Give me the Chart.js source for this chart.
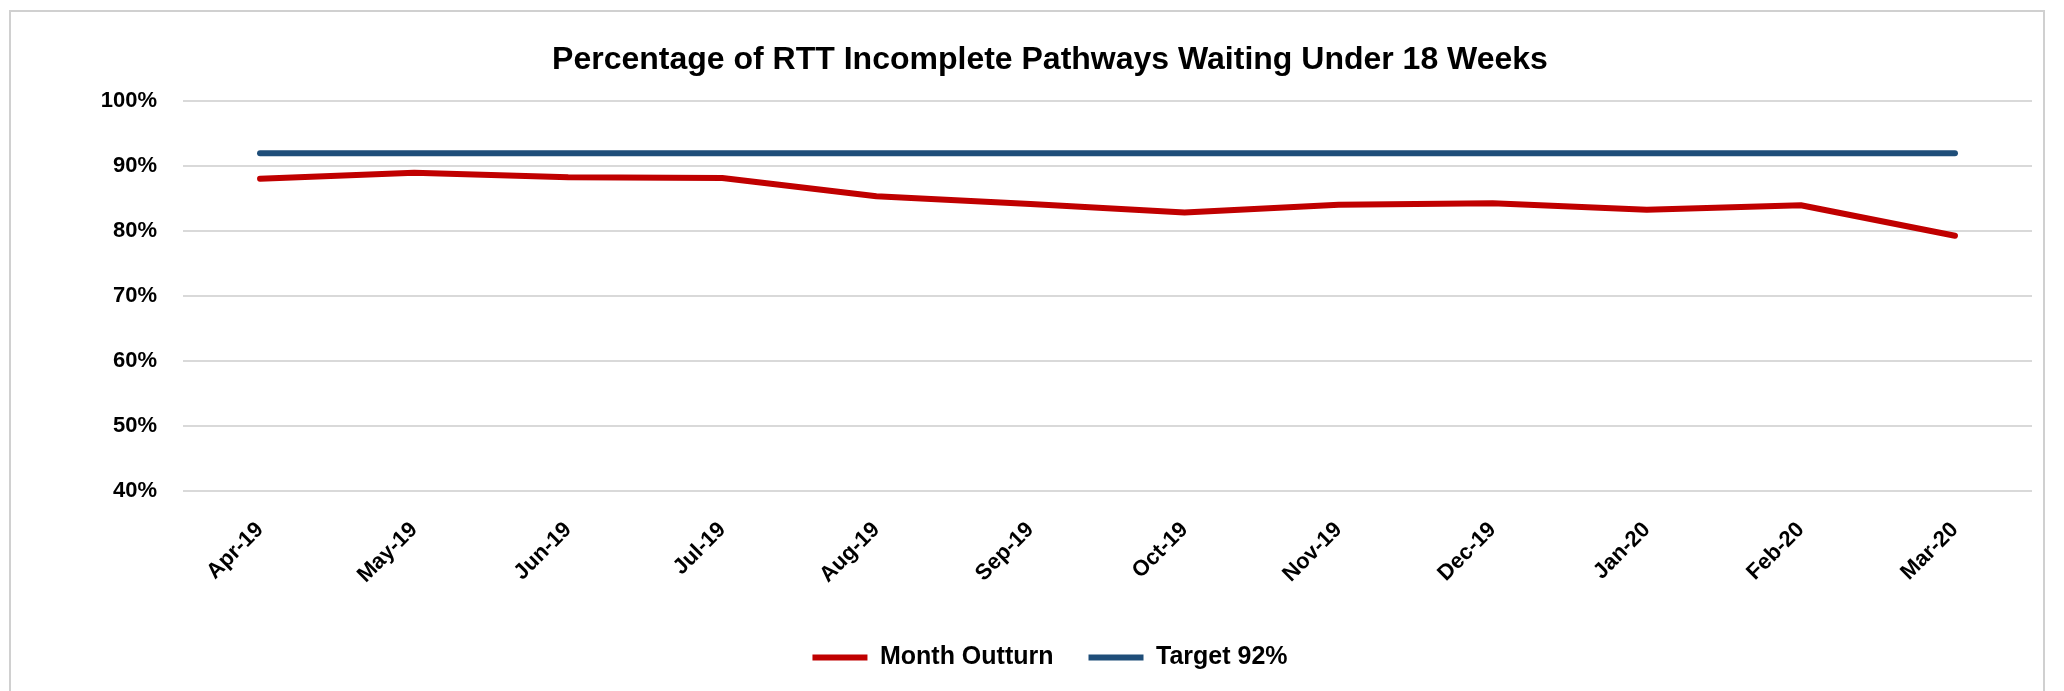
<!DOCTYPE html>
<html>
<head>
<meta charset="utf-8">
<script src="https://cdn.jsdelivr.net/npm/chart.js@4.4.1/dist/chart.umd.min.js"></script>
<style>
  html, body { margin: 0; padding: 0; background: #ffffff; }
  body { width: 2064px; height: 691px; position: relative; overflow: hidden; }
  #frame { position: absolute; left: 9px; top: 10px; width: 2036px; height: 690px; border: 2px solid #d0d0d0; box-sizing: border-box; }
  #c { position: absolute; left: 0; top: 0; }
</style>
</head>
<body>
<div id="frame"></div>
<canvas id="c" width="2064" height="691"></canvas>
<script>
const chartTitle = 'Percentage of RTT Incomplete Pathways Waiting Under 18 Weeks';
const categories = ['Apr-19', 'May-19', 'Jun-19', 'Jul-19', 'Aug-19', 'Sep-19', 'Oct-19', 'Nov-19', 'Dec-19', 'Jan-20', 'Feb-20', 'Mar-20'];
const monthOutturn = [88.1, 89.0, 88.3, 88.2, 85.4, 84.2, 82.9, 84.1, 84.3, 83.3, 84.0, 79.3];
const target92 = [92, 92, 92, 92, 92, 92, 92, 92, 92, 92, 92, 92];
const seriesNames = ['Month Outturn', 'Target 92%'];
const yMin = 40, yMax = 100, yStep = 10;

const FONT = '"Liberation Sans", Arial, sans-serif';

new Chart(document.getElementById('c'), {
  type: 'line',
  data: {
    labels: categories,
    datasets: [
      {
        label: seriesNames[0],
        data: monthOutturn,
        borderColor: '#c00000',
        backgroundColor: '#c00000',
        borderWidth: 6,
        borderCapStyle: 'round',
        borderJoinStyle: 'round',
        pointRadius: 0,
        tension: 0,
        fill: false
      },
      {
        label: seriesNames[1],
        data: target92,
        borderColor: '#1f4e79',
        backgroundColor: '#1f4e79',
        borderWidth: 6,
        borderCapStyle: 'round',
        borderJoinStyle: 'round',
        pointRadius: 0,
        tension: 0,
        fill: false
      }
    ]
  },
  options: {
    responsive: false,
    animation: false,
    devicePixelRatio: 1,
    layout: { padding: { left: 68, right: 32, top: 20, bottom: 11 } },
    plugins: {
      title: {
        display: true,
        text: chartTitle,
        color: '#000000',
        font: { family: FONT, size: 32, weight: 'bold' },
        padding: { top: 21, bottom: 22 }
      },
      legend: {
        display: true,
        position: 'bottom',
        labels: {
          color: '#000000',
          font: { family: FONT, size: 25, weight: 'bold' },
          usePointStyle: true,
          pointStyle: 'line',
          pointStyleWidth: 55,
          padding: 35
        }
      },
      tooltip: { enabled: false }
    },
    scales: {
      x: {
        type: 'category',
        offset: true,
        grid: { display: false, drawTicks: false },
        border: { display: false },
        ticks: {
          color: '#000000',
          font: { family: FONT, size: 22, weight: 'bold' },
          minRotation: 45,
          maxRotation: 45,
          padding: 26,
          autoSkip: false
        },
        afterFit: (s) => { s.height = 119; }
      },
      y: {
        min: yMin,
        max: yMax,
        grid: { color: '#d9d9d9', lineWidth: 2, drawTicks: false },
        border: { display: false },
        ticks: {
          stepSize: yStep,
          color: '#000000',
          font: { family: FONT, size: 22, weight: 'bold' },
          padding: 26,
          callback: (v) => v + '%'
        },
        afterFit: (s) => { s.width = 115; }
      }
    }
  }
});
</script>
</body>
</html>
